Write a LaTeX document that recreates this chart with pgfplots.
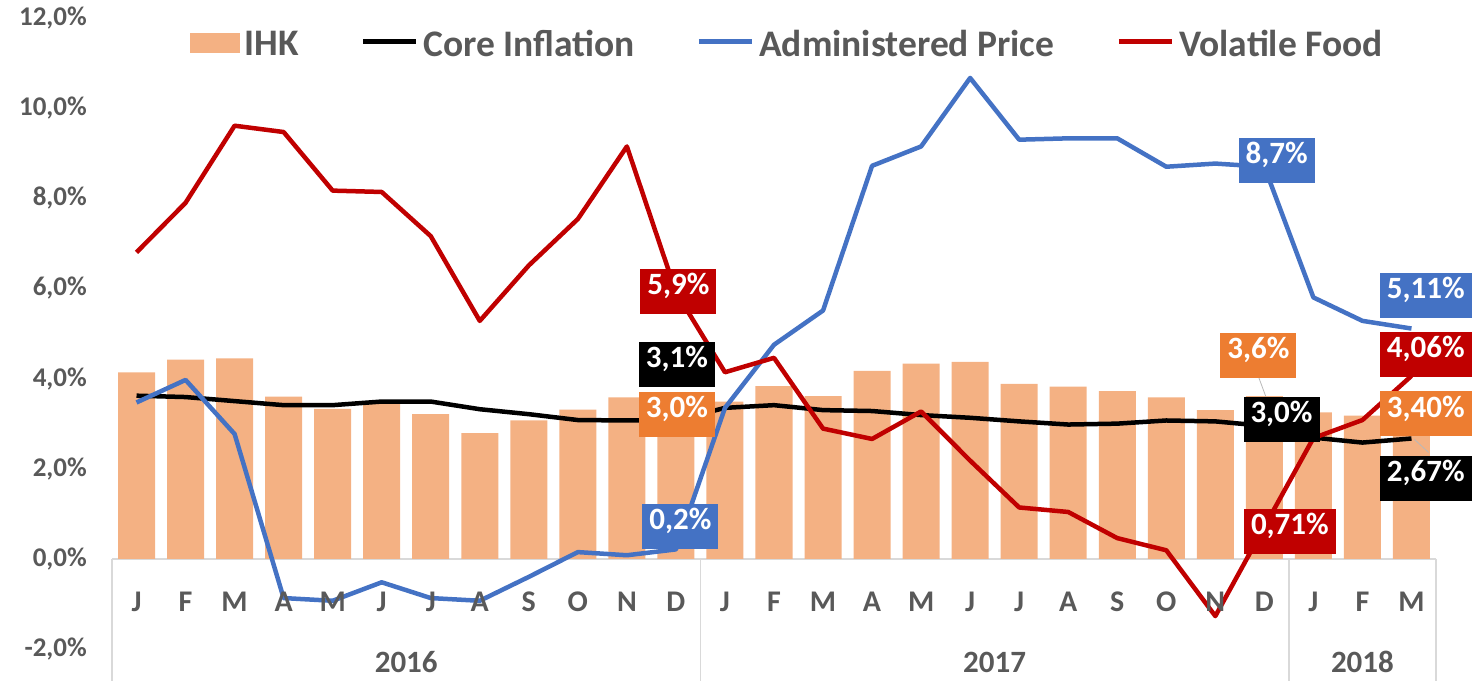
\documentclass[border=0pt]{standalone}
\usepackage{fontspec}
\setmainfont{Carlito}
\usepackage{pgfplots}
\usepackage{pgfplotstable}
\pgfplotsset{compat=1.18}
\definecolor{ihk}{HTML}{F4B183}
\definecolor{apblue}{HTML}{4472C4}
\definecolor{vfred}{HTML}{C00000}
\definecolor{lblor}{HTML}{ED7D31}
\definecolor{txt}{HTML}{595959}
\definecolor{axgray}{HTML}{D9D9D9}
\newcommand\fs[1]{\fontsize{#1bp}{#1bp}\selectfont\bfseries}
\tikzset{lbl/.style={font=\fs{31}, text=white, inner xsep=7bp, inner ysep=0pt, minimum height=45bp, text height=0.64em, text depth=0pt}}
\newcommand\mon[2]{\node[font=\fs{30}, text=txt, anchor=base] at (axis cs:#1,-1.157) {#2};}

\pgfplotstableread{
i ihk core ap vf
0 4.14 3.62 3.47 6.80
1 4.42 3.59 3.97 7.90
2 4.45 3.50 2.77 9.61
3 3.60 3.41 -0.87 9.47
4 3.33 3.41 -0.93 8.17
5 3.45 3.49 -0.52 8.14
6 3.21 3.49 -0.87 7.16
7 2.79 3.32 -0.93 5.28
8 3.07 3.21 -0.40 6.51
9 3.31 3.08 0.15 7.54
10 3.58 3.07 0.08 9.15
11 3.02 3.07 0.21 5.92
12 3.49 3.35 3.35 4.14
13 3.83 3.41 4.75 4.46
14 3.61 3.30 5.51 2.89
15 4.17 3.28 8.72 2.66
16 4.33 3.19 9.15 3.27
17 4.37 3.13 10.67 2.18
18 3.88 3.05 9.30 1.14
19 3.82 2.98 9.33 1.04
20 3.72 3.00 9.33 0.46
21 3.58 3.07 8.70 0.19
22 3.30 3.05 8.77 -1.27
23 3.61 2.95 8.70 0.71
24 3.25 2.69 5.80 2.68
25 3.18 2.58 5.28 3.08
26 3.40 2.67 5.11 4.06
}\data

\begin{document}
\begin{tikzpicture}
\begin{axis}[
  at={(112bp,32bp)}, anchor=south west,
  scale only axis, width=1324bp, height=631bp,
  xmin=-0.5, xmax=26.5, ymin=-2, ymax=12,
  clip=false,
  axis line style={draw=none},
  xtick=\empty,
  ytick={-2,0,...,12},
  yticklabels={{-2,0\%},{0,0\%},{2,0\%},{4,0\%},{6,0\%},{8,0\%},{10,0\%},{12,0\%}},
  major tick length=0pt,
  yticklabel style={font=\fs{27}, text=txt, anchor=east, inner sep=0pt, xshift=-25bp},
  legend columns=4,
  legend style={draw=none, fill=none, inner sep=0pt, at={(axis cs:1.08,11.43)}, anchor=west,
    font=\fs{37.5}, text=txt, nodes={inner sep=0pt},
    /tikz/column sep=5bp,
    /tikz/every even column/.append style={column sep=62bp}},
  legend image code/.code={\draw[#1] (0bp,2bp) -- (53bp,2bp);},
]
\draw[axgray, line width=1.3bp] (axis cs:-0.5,0) -- (axis cs:26.5,0);
\draw[axgray, line width=1.3bp] (axis cs:-0.5,0) -- (axis cs:-0.5,-3);
\draw[axgray, line width=1.3bp] (axis cs:11.5,0) -- (axis cs:11.5,-3);
\draw[axgray, line width=1.3bp] (axis cs:23.5,0) -- (axis cs:23.5,-3);
\draw[axgray, line width=1.3bp] (axis cs:26.5,0) -- (axis cs:26.5,-3);

\addplot[ybar, bar width=37bp, fill=ihk, draw=none,
  legend image code/.code={\fill[ihk] (0bp,-9bp) rectangle (50bp,11bp);}] table[x=i, y=ihk] {\data};
\addlegendentry{IHK}
\addplot[black, line width=4.5bp, line join=round] table[x=i, y=core] {\data};
\addlegendentry{Core Inflation}
\addplot[apblue, line width=4.5bp, line join=round] table[x=i, y=ap] {\data};
\addlegendentry{Administered Price}
\addplot[vfred, line width=4.5bp, line join=round] table[x=i, y=vf] {\data};
\addlegendentry{Volatile Food}

\mon{0}{J}\mon{1}{F}\mon{2}{M}\mon{3}{A}\mon{4}{M}\mon{5}{J}\mon{6}{J}\mon{7}{A}\mon{8}{S}\mon{9}{O}\mon{10}{N}\mon{11}{D}
\mon{12}{J}\mon{13}{F}\mon{14}{M}\mon{15}{A}\mon{16}{M}\mon{17}{J}\mon{18}{J}\mon{19}{A}\mon{20}{S}\mon{21}{O}\mon{22}{N}\mon{23}{D}
\mon{24}{J}\mon{25}{F}\mon{26}{M}
\node[font=\fs{31}, text=txt, anchor=base] at (axis cs:5.5,-2.52) {2016};
\node[font=\fs{31}, text=txt, anchor=base] at (axis cs:17.5,-2.52) {2017};
\node[font=\fs{31}, text=txt, anchor=base] at (axis cs:25,-2.52) {2018};

\draw[gray!55, line width=0.8bp] (axis cs:22.87,4.07) -- (axis cs:23.03,3.60);
\draw[gray!55, line width=0.8bp] (axis cs:26.06,2.65) -- (axis cs:26.35,2.36);

\node[lbl, fill=vfred] at (axis cs:11.05,5.93) {5,9\%};
\node[lbl, fill=black] at (axis cs:11.02,4.31) {3,1\%};
\node[lbl, fill=lblor] at (axis cs:11.02,3.20) {3,0\%};
\node[lbl, fill=apblue] at (axis cs:11.09,0.72) {0,2\%};
\node[lbl, fill=apblue] at (axis cs:23.25,8.84) {8,7\%};
\node[lbl, fill=lblor] at (axis cs:22.88,4.51) {3,6\%};
\node[lbl, fill=black] at (axis cs:23.35,3.09) {3,0\%};
\node[lbl, fill=vfred] at (axis cs:23.52,0.61) {0,71\%};
\node[lbl, fill=apblue, anchor=east] at (axis cs:27.23,5.84) {5,11\%};
\node[lbl, fill=vfred, anchor=east] at (axis cs:27.23,4.54) {4,06\%};
\node[lbl, fill=lblor, anchor=east] at (axis cs:27.23,3.215) {3,40\%};
\node[lbl, fill=black, anchor=east] at (axis cs:27.23,1.785) {2,67\%};
\end{axis}
\pgfresetboundingbox
\path[use as bounding box] (0bp,0bp) rectangle (1473bp,681bp);
\end{tikzpicture}
\end{document}
